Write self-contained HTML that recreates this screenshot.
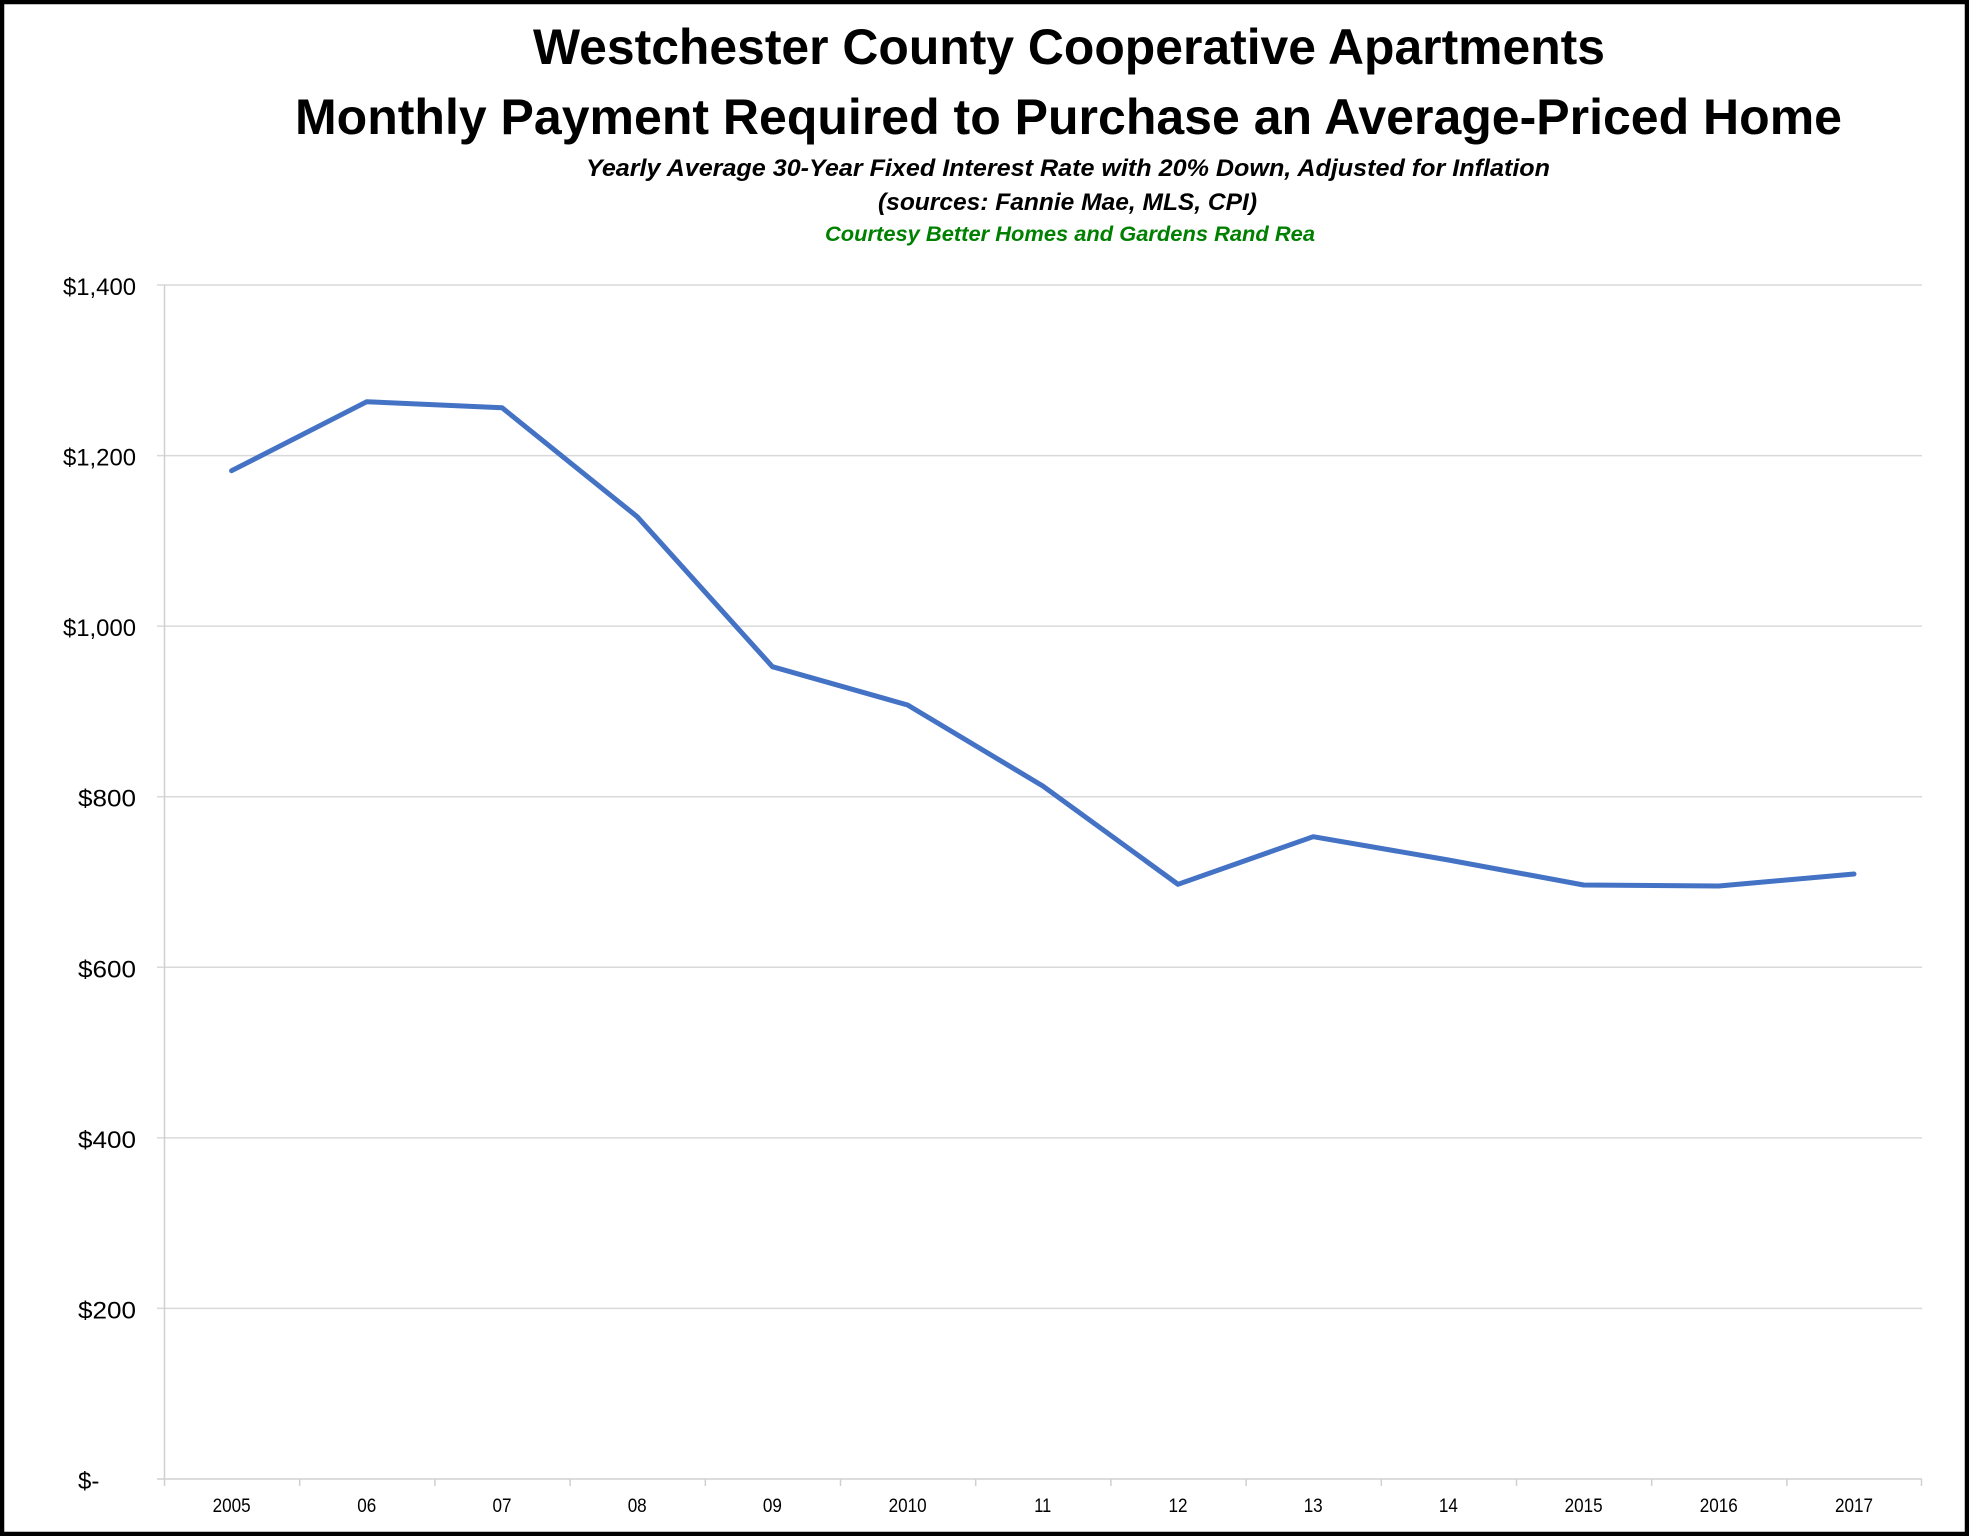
<!DOCTYPE html>
<html>
<head>
<meta charset="utf-8">
<style>
  html, body { margin:0; padding:0; background:#fff; }
  body { width:1969px; height:1536px; overflow:hidden; }
  svg { display:block; }
  text { font-family: "Liberation Sans", "DejaVu Sans", sans-serif; }
</style>
</head>
<body>
<svg width="1969" height="1536" viewBox="0 0 1969 1536" xmlns="http://www.w3.org/2000/svg">
  <rect x="0" y="0" width="1969" height="1536" fill="#ffffff"/>
  <!-- outer border -->
  <rect x="2" y="2" width="1965" height="1532" fill="none" stroke="#000" stroke-width="4.5"/>

  <!-- titles -->
  <text x="533" y="64" font-size="50" font-weight="bold" fill="#000" textLength="1072" lengthAdjust="spacingAndGlyphs">Westchester County Cooperative Apartments</text>
  <text x="295" y="134" font-size="50" font-weight="bold" fill="#000" textLength="1547" lengthAdjust="spacingAndGlyphs">Monthly Payment Required to Purchase an Average-Priced Home</text>
  <text x="586" y="176" font-size="24" font-weight="bold" font-style="italic" fill="#000" textLength="964" lengthAdjust="spacingAndGlyphs">Yearly Average 30-Year Fixed Interest Rate with 20% Down, Adjusted for Inflation</text>
  <text x="878" y="210" font-size="24" font-weight="bold" font-style="italic" fill="#000" textLength="379" lengthAdjust="spacingAndGlyphs">(sources: Fannie Mae, MLS, CPI)</text>
  <text x="825" y="241" font-size="21" font-weight="bold" font-style="italic" fill="#008000" textLength="490" lengthAdjust="spacingAndGlyphs">Courtesy Better Homes and Gardens Rand Rea</text>

  <!-- gridlines -->
  <g stroke="#d9d9d9" stroke-width="1.5">
    <line x1="157" y1="285" x2="1922" y2="285"/>
    <line x1="157" y1="455.6" x2="1922" y2="455.6"/>
    <line x1="157" y1="626.1" x2="1922" y2="626.1"/>
    <line x1="157" y1="796.7" x2="1922" y2="796.7"/>
    <line x1="157" y1="967.3" x2="1922" y2="967.3"/>
    <line x1="157" y1="1137.9" x2="1922" y2="1137.9"/>
    <line x1="157" y1="1308.4" x2="1922" y2="1308.4"/>
  </g>
  <!-- axes -->
  <g stroke="#d0d0d0" stroke-width="1.5">
    <line x1="164.5" y1="285" x2="164.5" y2="1486"/>
    <line x1="157" y1="1479" x2="1922" y2="1479"/>
    <line x1="299.7" y1="1479" x2="299.7" y2="1486"/>
    <line x1="434.9" y1="1479" x2="434.9" y2="1486"/>
    <line x1="570.1" y1="1479" x2="570.1" y2="1486"/>
    <line x1="705.3" y1="1479" x2="705.3" y2="1486"/>
    <line x1="840.5" y1="1479" x2="840.5" y2="1486"/>
    <line x1="975.7" y1="1479" x2="975.7" y2="1486"/>
    <line x1="1110.9" y1="1479" x2="1110.9" y2="1486"/>
    <line x1="1246.1" y1="1479" x2="1246.1" y2="1486"/>
    <line x1="1381.3" y1="1479" x2="1381.3" y2="1486"/>
    <line x1="1516.5" y1="1479" x2="1516.5" y2="1486"/>
    <line x1="1651.7" y1="1479" x2="1651.7" y2="1486"/>
    <line x1="1786.9" y1="1479" x2="1786.9" y2="1486"/>
    <line x1="1921.5" y1="1479" x2="1921.5" y2="1486"/>
  </g>

  <!-- y labels -->
  <g font-size="24" fill="#000" text-anchor="end">
    <text x="136" y="295" textLength="73" lengthAdjust="spacingAndGlyphs">$1,400</text>
    <text x="136" y="465.6" textLength="73" lengthAdjust="spacingAndGlyphs">$1,200</text>
    <text x="136" y="636.1" textLength="73" lengthAdjust="spacingAndGlyphs">$1,000</text>
    <text x="136" y="806.7" textLength="58" lengthAdjust="spacingAndGlyphs">$800</text>
    <text x="136" y="977.3" textLength="58" lengthAdjust="spacingAndGlyphs">$600</text>
    <text x="136" y="1147.9" textLength="58" lengthAdjust="spacingAndGlyphs">$400</text>
    <text x="136" y="1318.4" textLength="58" lengthAdjust="spacingAndGlyphs">$200</text>
  </g>
  <text x="78" y="1489" font-size="24" fill="#000">$-</text>

  <!-- x labels -->
  <g font-size="19" fill="#000" text-anchor="middle">
    <text x="231.6" y="1512" textLength="38" lengthAdjust="spacingAndGlyphs">2005</text>
    <text x="366.8" y="1512" textLength="19" lengthAdjust="spacingAndGlyphs">06</text>
    <text x="502" y="1512" textLength="19" lengthAdjust="spacingAndGlyphs">07</text>
    <text x="637.2" y="1512" textLength="19" lengthAdjust="spacingAndGlyphs">08</text>
    <text x="772.4" y="1512" textLength="19" lengthAdjust="spacingAndGlyphs">09</text>
    <text x="907.6" y="1512" textLength="38" lengthAdjust="spacingAndGlyphs">2010</text>
    <text x="1042.8" y="1512" textLength="17" lengthAdjust="spacingAndGlyphs">11</text>
    <text x="1178" y="1512" textLength="19" lengthAdjust="spacingAndGlyphs">12</text>
    <text x="1313.2" y="1512" textLength="19" lengthAdjust="spacingAndGlyphs">13</text>
    <text x="1448.4" y="1512" textLength="19" lengthAdjust="spacingAndGlyphs">14</text>
    <text x="1583.6" y="1512" textLength="38" lengthAdjust="spacingAndGlyphs">2015</text>
    <text x="1718.8" y="1512" textLength="38" lengthAdjust="spacingAndGlyphs">2016</text>
    <text x="1854" y="1512" textLength="38" lengthAdjust="spacingAndGlyphs">2017</text>
  </g>

  <!-- series -->
  <polyline fill="none" stroke="#4472C4" stroke-width="5" stroke-linejoin="round" stroke-linecap="round"
    points="231.6,470.7 366.8,401.7 502,407.7 637.2,516.7 772.4,666.7 907.6,705 1042.8,786 1178,884.3 1313.2,836.7 1448.4,860 1583.6,885 1718.8,886 1854,874"/>
</svg>
</body>
</html>
